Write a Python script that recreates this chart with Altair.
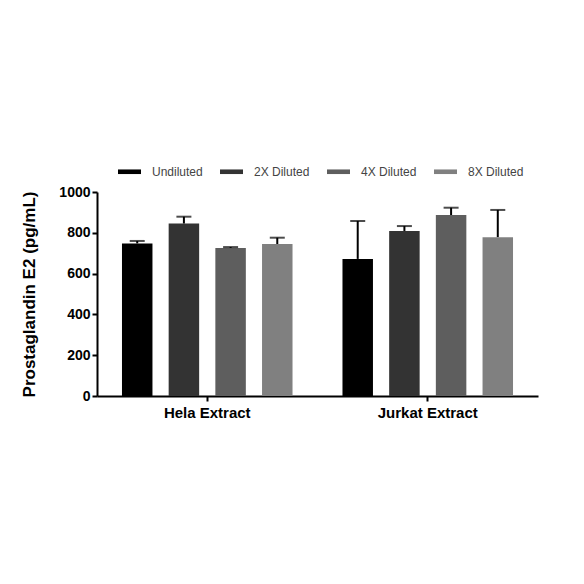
import altair as alt
import pandas as pd

groups = ["Hela Extract"] * 4 + ["Jurkat Extract"] * 4
dilutions = ["Undiluted", "2X Diluted", "4X Diluted", "8X Diluted"] * 2
means = [748, 845, 725, 745, 672, 809, 887, 778]
uppers = [760, 879, 730, 776, 858, 833, 923, 912]

order = ["Undiluted", "2X Diluted", "4X Diluted", "8X Diluted"]
colors = ["#000000", "#333333", "#5e5e5e", "#808080"]

df = pd.DataFrame({"group": groups, "dilution": dilutions, "mean": means, "upper": uppers})

x = alt.X("group:N", title=None, sort=["Hela Extract", "Jurkat Extract"],
          scale=alt.Scale(paddingInner=0, paddingOuter=0),
          axis=alt.Axis(labelAngle=0, labelFontSize=15, labelFontWeight="bold",
                        labelColor="#000000", labelPadding=4, tickSize=5))
xo = alt.XOffset("dilution:N", sort=order,
                 scale=alt.Scale(paddingInner=0.347, paddingOuter=0.535))

bars = alt.Chart(df).mark_bar().encode(
    x=x, xOffset=xo,
    y=alt.Y("mean:Q", title="Prostaglandin E2 (pg/mL)",
            scale=alt.Scale(domain=[0, 1000], nice=False),
            axis=alt.Axis(values=[0, 200, 400, 600, 800, 1000], format="d",
                          labelFontSize=14,
                          labelFontWeight="bold", labelColor="#000000",
                          titleFontSize=17, titleFontWeight="bold", titleColor="#000000",
                          titlePadding=20, tickSize=5)),
    color=alt.Color("dilution:N", sort=order,
                    scale=alt.Scale(domain=order, range=colors),
                    legend=alt.Legend(title=None, orient="none", direction="horizontal",
                                      legendX=21, legendY=-32,
                                      symbolType="M-1,-0.2H1V0.2H-1Z", symbolSize=529,
                                      symbolStrokeWidth=0, labelFontSize=12,
                                      labelColor="#444444", labelOffset=11,
                                      columnPadding=17, padding=0)),
)

rules = alt.Chart(df).mark_rule(color="#000000", strokeWidth=2).encode(
    x=x, xOffset=xo, y="mean:Q", y2="upper:Q"
)
caps = alt.Chart(df).mark_tick(color="#000000", thickness=2, size=15).encode(
    x=x, xOffset=xo, y="upper:Q"
)

chart = alt.layer(rules, bars, caps).properties(
    width=441, height=204,
    autosize=alt.AutoSizeParams(type="none"),
    padding={"left": 89, "top": 184, "right": 30, "bottom": 150},
).configure_view(stroke=None).configure_axis(
    grid=False, domainColor="#000000", domainWidth=2, tickColor="#000000", tickWidth=2,
    labelFont="Liberation Sans", titleFont="Liberation Sans"
).configure_legend(labelFont="Liberation Sans")

chart.save("out.html", embed_options={"renderer": "svg", "actions": False})
